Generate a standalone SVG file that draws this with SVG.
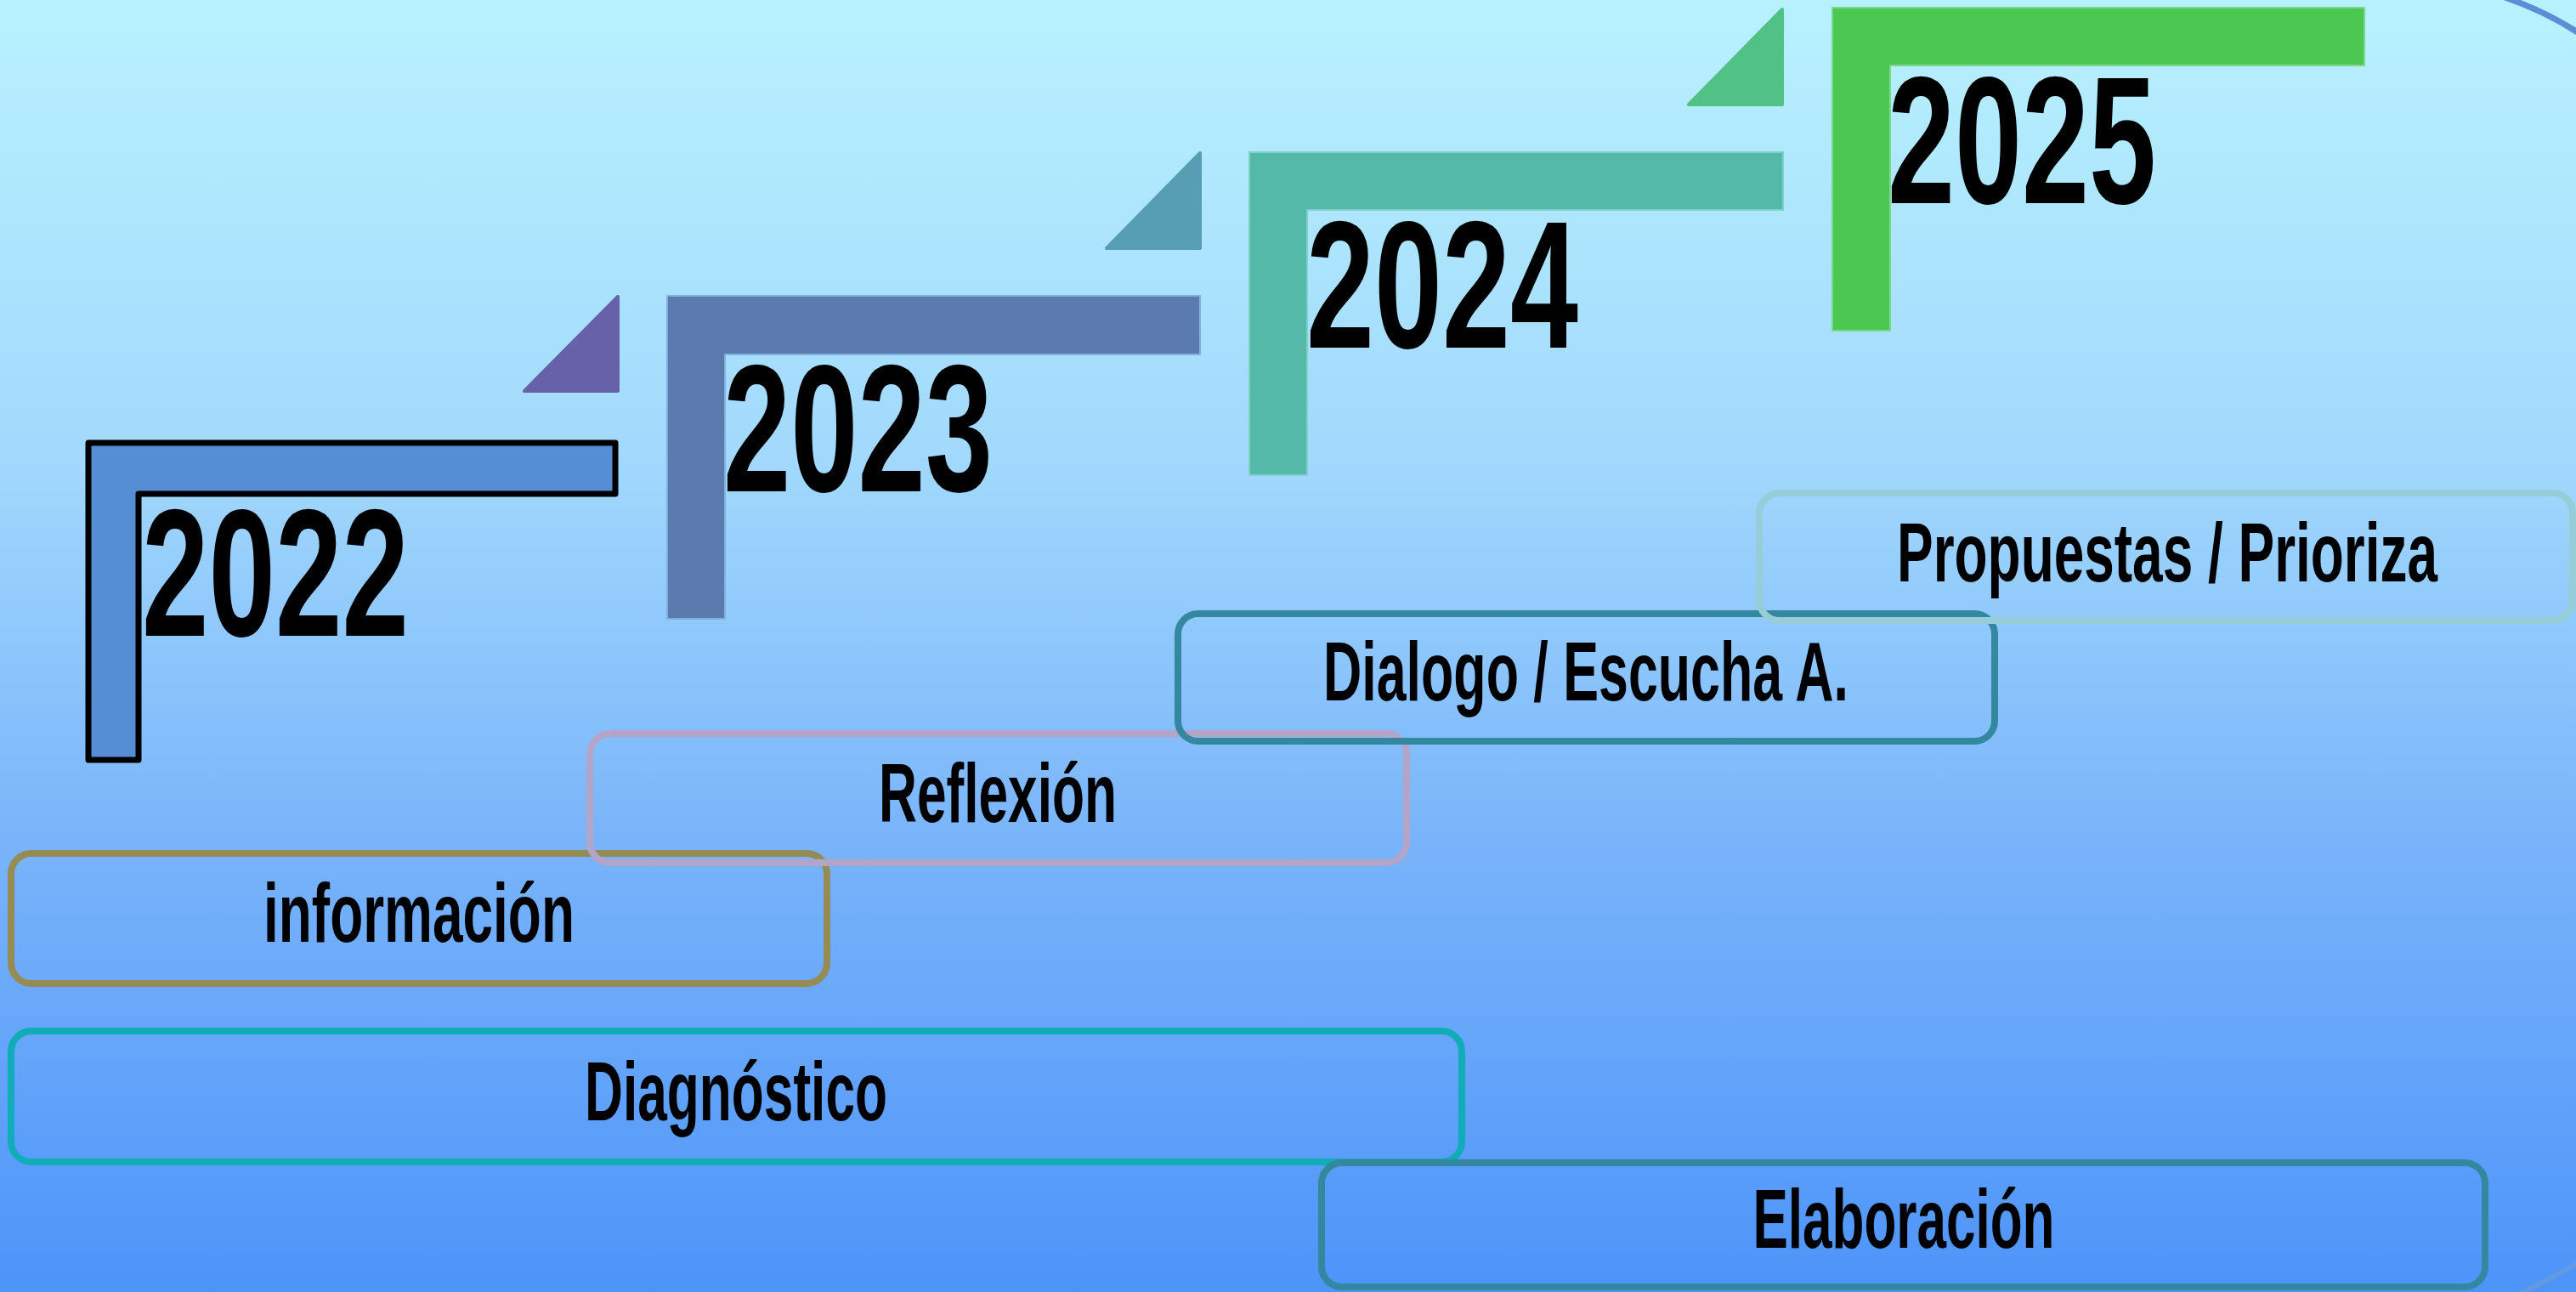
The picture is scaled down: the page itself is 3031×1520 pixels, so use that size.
<svg xmlns="http://www.w3.org/2000/svg" width="3031" height="1520" viewBox="0 0 3031 1520">
<defs>
<linearGradient id="bg" x1="0" y1="0" x2="0" y2="1">
<stop offset="0" stop-color="#b8f1fe"/>
<stop offset="0.35" stop-color="#a2d9fc"/>
<stop offset="0.65" stop-color="#79b4fa"/>
<stop offset="1" stop-color="#4d94f9"/>
</linearGradient>
</defs>
<style>
.year{font-family:"Liberation Sans",Arial,sans-serif;font-weight:bold;font-size:214px;fill:#000}
.lbl{font-family:"Liberation Sans",Arial,sans-serif;font-weight:bold;font-size:98px;fill:#000;text-anchor:middle}
.box{fill:none;stroke-width:8}
.ell{stroke-linejoin:round;stroke-width:2}
.tri{stroke-linejoin:round;stroke-width:4}
</style>
<rect x="0" y="0" width="3031" height="1520" fill="url(#bg)"/>
<path d="M2925 -10 Q2990 8 3045 46" fill="none" stroke="#5a8fd8" stroke-width="7"/>
<path d="M2945 1530 Q2995 1510 3045 1478" fill="none" stroke="#6a9bd8" stroke-opacity="0.7" stroke-width="6"/>

<g id="year-2022">
<path d="M104 521 H724 V581 H163 V894 H104 Z" fill="#558ed5" stroke="#000" stroke-width="7" stroke-linejoin="round"/>
<text class="year" x="167" y="748" textLength="314" lengthAdjust="spacingAndGlyphs">2022</text>
</g>
<g id="year-2023">
<path d="M727 349 L617 460 L727 460 Z" fill="#6661a8" stroke="#6661a8" class="tri"/>
<path d="M785 348 H1412 V417 H853 V728 H785 Z" fill="#5b7aae" stroke="#7fb0e0" class="ell"/>
<text class="year" x="851" y="578" textLength="317" lengthAdjust="spacingAndGlyphs">2023</text>
</g>
<g id="year-2024">
<path d="M1412 180 L1302 292 L1412 292 Z" fill="#579eb5" stroke="#579eb5" class="tri"/>
<path d="M1470 179 H2098 V247 H1538 V559 H1470 Z" fill="#55b9aa" stroke="#7fd0c8" class="ell"/>
<text class="year" x="1537" y="409" textLength="320" lengthAdjust="spacingAndGlyphs">2024</text>
</g>
<g id="year-2025">
<path d="M2097 11 L1987 123 L2097 123 Z" fill="#51c186" stroke="#51c186" class="tri"/>
<path d="M2156 9 H2782 V77 H2224 V389 H2156 Z" fill="#4cc752" stroke="#7ad88a" class="ell"/>
<text class="year" x="2221" y="239" textLength="316" lengthAdjust="spacingAndGlyphs">2025</text>
</g>

<g id="box-diagnostico">
<rect class="box" x="13" y="1213" width="1707" height="154" rx="24" stroke="#10adb9"/>
<text class="lbl" x="866" y="1318" textLength="356" lengthAdjust="spacingAndGlyphs">Diagnóstico</text>
</g>
<g id="box-informacion">
<rect class="box" x="13" y="1004" width="960" height="153" rx="24" stroke="#968b53"/>
<text class="lbl" x="493" y="1108" textLength="366" lengthAdjust="spacingAndGlyphs">información</text>
</g>
<g id="box-reflexion">
<rect class="box" x="694" y="863" width="961" height="152" rx="24" stroke="#b3a4c9"/>
<text class="lbl" x="1174" y="967" textLength="280" lengthAdjust="spacingAndGlyphs">Reflexión</text>
</g>
<g id="box-dialogo">
<rect class="box" x="1386" y="722" width="961" height="150" rx="24" stroke="#33879f"/>
<text class="lbl" x="1866" y="824" textLength="618" lengthAdjust="spacingAndGlyphs">Dialogo / Escucha A.</text>
</g>
<g id="box-propuestas">
<rect class="box" x="2070" y="580" width="957" height="150" rx="24" stroke="#96cdd9"/>
<text class="lbl" x="2550" y="684" textLength="636" lengthAdjust="spacingAndGlyphs">Propuestas / Prioriza</text>
</g>
<g id="box-elaboracion">
<rect class="box" x="1555" y="1368" width="1369" height="146" rx="24" stroke="#33879f"/>
<text class="lbl" x="2240" y="1468" textLength="355" lengthAdjust="spacingAndGlyphs">Elaboración</text>
</g>
<g id="connectors"/>
</svg>
